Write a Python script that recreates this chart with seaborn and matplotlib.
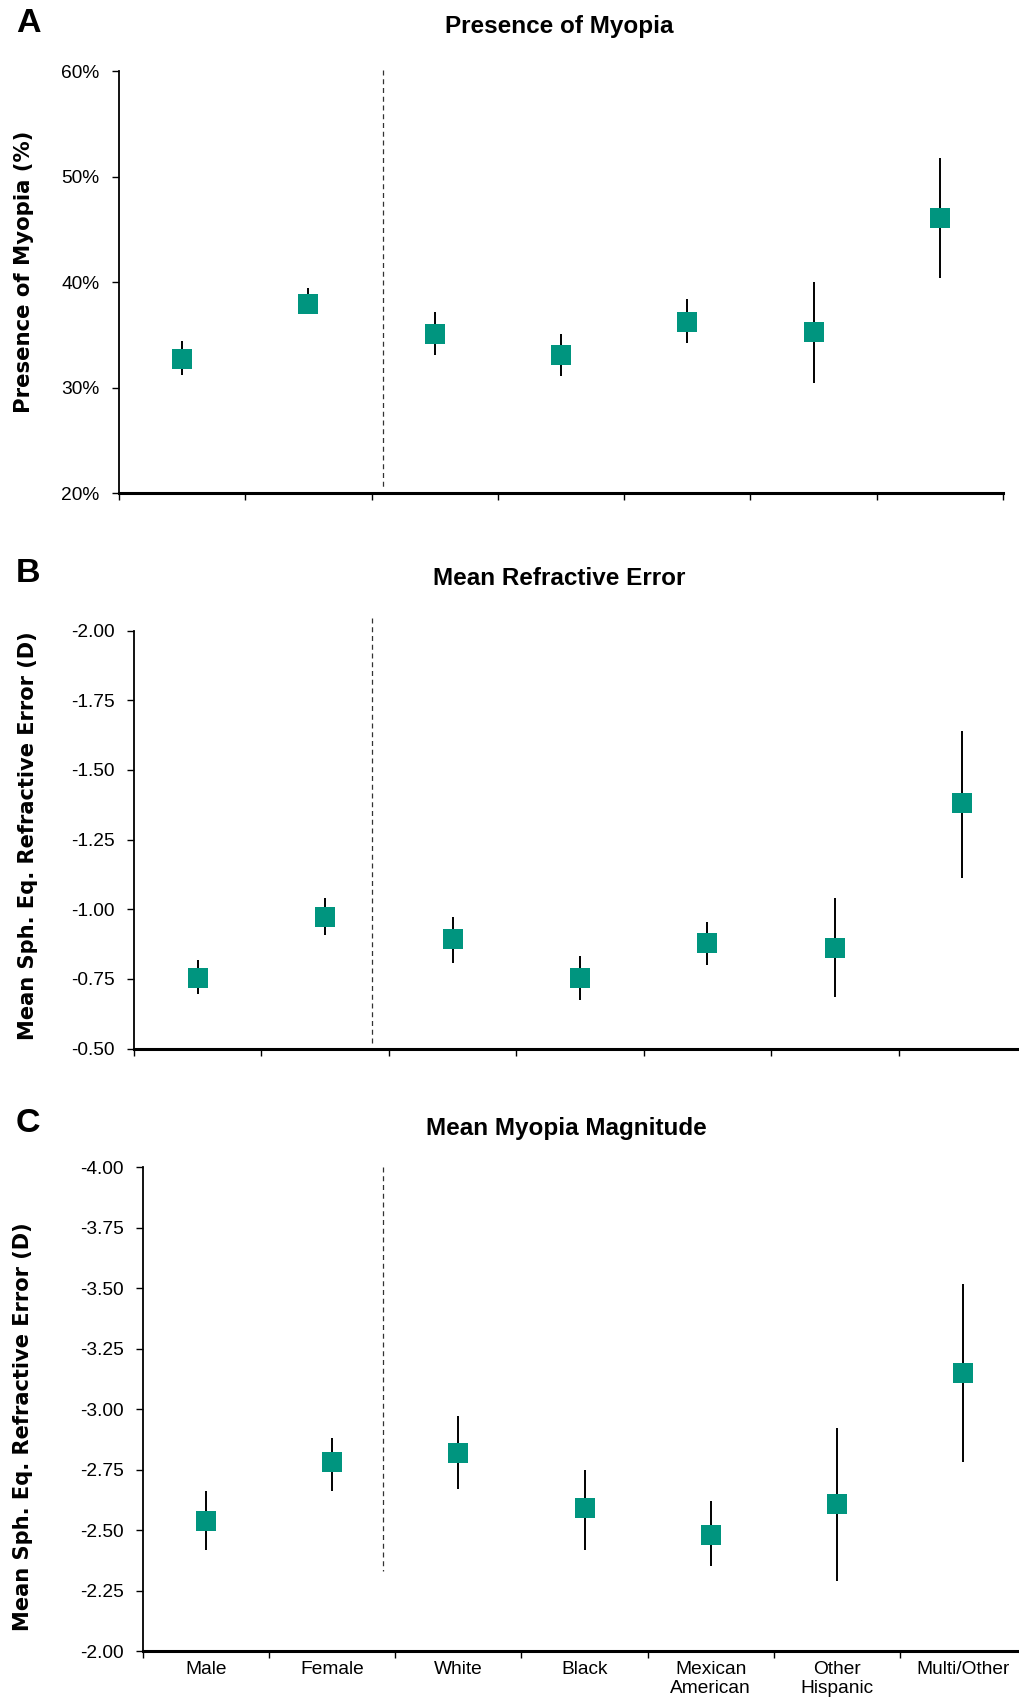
import numpy as np
import pandas as pd
import matplotlib
matplotlib.use("Agg")
import matplotlib.pyplot as plt
import seaborn as sns
from matplotlib.ticker import FuncFormatter

# ---------------- data ----------------
categories = ["Male", "Female", "White", "Black", "Mexican\nAmerican", "Other\nHispanic", "Multi/Other"]

# Panel A: presence of myopia (%)
myopia_pct = [32.7, 37.9, 35.1, 33.05, 36.25, 35.24, 46.06]
myopia_lo = [31.2, 37.0, 33.1, 31.1, 34.2, 30.4, 40.4]
myopia_hi = [34.4, 39.5, 37.15, 35.1, 38.4, 40.0, 51.76]

# Panel B: mean refractive error (D)
mre = [-0.755, -0.973, -0.892, -0.755, -0.878, -0.862, -1.381]
mre_lo = [-0.695, -0.906, -0.808, -0.674, -0.799, -0.686, -1.111]
mre_hi = [-0.817, -1.040, -0.973, -0.834, -0.956, -1.041, -1.638]

# Panel C: mean myopia magnitude (D)
mmm = [-2.538, -2.783, -2.820, -2.593, -2.481, -2.609, -3.149]
mmm_lo = [-2.419, -2.660, -2.671, -2.419, -2.350, -2.291, -2.780]
mmm_hi = [-2.660, -2.881, -2.970, -2.750, -2.620, -2.921, -3.519]

yticks_a = [20, 30, 40, 50, 60]
yticks_b = [-2.00, -1.75, -1.50, -1.25, -1.00, -0.75, -0.50]
yticks_c = [-4.00, -3.75, -3.50, -3.25, -3.00, -2.75, -2.50, -2.25, -2.00]

titles = ["Presence of Myopia", "Mean Refractive Error", "Mean Myopia Magnitude"]
letters = ["A", "B", "C"]
ylabels = ["Presence of Myopia (%)",
           "Mean Sph. Eq. Refractive Error (D)",
           "Mean Sph. Eq. Refractive Error (D)"]

# ---------------- style ----------------
sns.set_style("white")
plt.rcParams["font.family"] = ["Liberation Sans", "DejaVu Sans"]
plt.rcParams["text.color"] = "black"
plt.rcParams["axes.labelcolor"] = "black"
plt.rcParams["xtick.color"] = "black"
plt.rcParams["ytick.color"] = "black"

TEAL = "#00957F"
W, H = 1019, 1700
fig = plt.figure(figsize=(W / 100, H / 100), dpi=100)


def rect(left, right, top, bottom):
    return [left / W, 1 - bottom / H, (right - left) / W, (bottom - top) / H]


def panel(r, vals, lo, hi, ylim, yticks, fmt, show_x, dash_x, dash_y):
    ax = fig.add_axes(r)
    n = len(categories)
    df = pd.DataFrame({"x": np.arange(n), "y": vals, "lo": lo, "hi": hi})
    ax.vlines(df["x"], df["lo"], df["hi"], color="black", lw=1.4, zorder=2)
    sns.scatterplot(data=df, x="x", y="y", marker="s", s=205, color=TEAL,
                    linewidth=0, ax=ax, zorder=3, legend=False)
    ax.plot([dash_x, dash_x], dash_y, color="#333333", lw=0.9,
            dashes=(4, 3), clip_on=False, zorder=1)
    ax.set_xlim(-0.5, n - 0.5)
    ax.set_ylim(*ylim)
    ax.set_xlabel("")
    ax.set_ylabel("")
    sns.despine(ax=ax)
    ax.spines["left"].set_linewidth(1.3)
    ax.spines["bottom"].set_linewidth(2.2)
    ax.spines["left"].set_color("black")
    ax.spines["bottom"].set_color("black")

    ax.set_xticks(np.arange(n))
    ax.set_xticklabels(categories if show_x else [""] * n)
    ax.set_xticks(np.arange(n + 1) - 0.5, minor=True)
    ax.tick_params(axis="x", which="major", length=0, pad=7, labelsize=13.8,
                   bottom=True, labelcolor="black")
    ax.tick_params(axis="x", which="minor", length=5, width=1.0, direction="out",
                   bottom=True, color="black")
    ax.set_yticks(yticks)
    ax.yaxis.set_major_formatter(FuncFormatter(fmt))
    ax.tick_params(axis="y", which="major", length=5, width=1.0, pad=9,
                   labelsize=13.8, left=True, color="black", labelcolor="black")
    ax.tick_params(axis="y", which="minor", left=False)
    ax.grid(False)
    return ax


pct = lambda v, p: f"{v:.0f}%"
dec = lambda v, p: f"{v:.2f}"

panel(rect(119, 1003, 71.5, 493), myopia_pct, myopia_lo, myopia_hi,
      (20, 60), yticks_a, pct, False, 1.59, [60.1, 20.3])
panel(rect(134, 1026, 630.6, 1048.6), mre, mre_lo, mre_hi,
      (-0.5, -2.0), yticks_b, dec, False, 1.37, [-2.047, -0.52])
panel(rect(143, 1026, 1167.4, 1651), mmm, mmm_lo, mmm_hi,
      (-2.0, -4.0), yticks_c, dec, True, 1.40, [-4.0, -2.33])

# titles, panel letters, y labels
title_pos = [(559, 26), (559, 578), (566, 1128)]
letter_pos = [(28, 24), (28, 573), (28, 1124)]
ylabel_pos = [(24, 272), (28, 836), (23, 1427)]
ylabel_size = [15.3, 15.1, 15.1]
for t, (tx, ty), l, (lx, ly), yl, (yx, yy), ys in zip(titles, title_pos, letters, letter_pos,
                                                      ylabels, ylabel_pos, ylabel_size):
    fig.text(tx / W, 1 - ty / H, t, ha="center", va="center", fontsize=17.5,
             fontweight="bold", color="black")
    fig.text(lx / W, 1 - ly / H, l, ha="center", va="center", fontsize=24.5,
             fontweight="bold", color="black")
    fig.text(yx / W, 1 - yy / H, yl, ha="center", va="center", rotation=90,
             fontsize=ys, fontweight="bold", family=["DejaVu Sans"], color="black")

fig.savefig("out.png", dpi=100)
